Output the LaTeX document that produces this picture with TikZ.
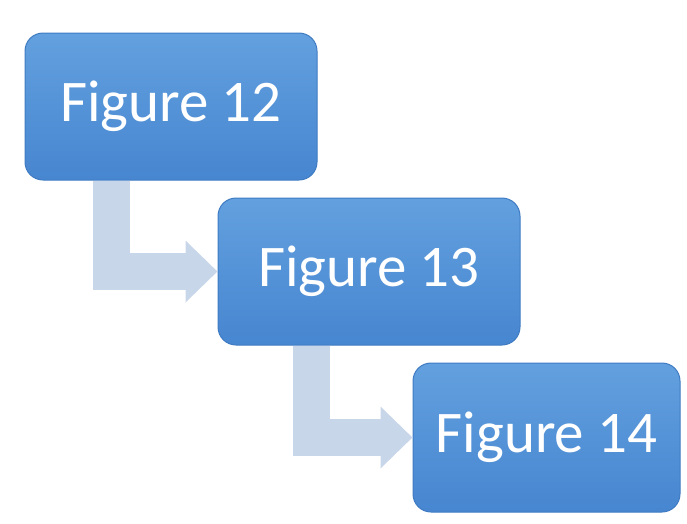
\documentclass[tikz,border=0pt]{standalone}
\usepackage{fontspec}
\setmainfont{Carlito}
\usetikzlibrary{arrows.meta}

\definecolor{boxtop}{HTML}{62A0DF}
\definecolor{boxbot}{HTML}{4786D0}
\definecolor{boxline}{HTML}{3F7BC2}
\definecolor{bendblue}{HTML}{C8D6EA}

\tikzset{
  figbox/.style={rounded corners=18pt, draw=boxline, line width=1pt,
    top color=boxtop, bottom color=boxbot, text=white,
    inner sep=0pt, font=\fontsize{59}{62}\selectfont},
  bendarrow/.style={draw=bendblue, line width=37pt, line join=miter,
    -{Triangle[length=32pt,width=60pt]}}
}

\begin{document}
\begin{tikzpicture}[x=1pt,y=-1pt]
      % page frame
      \useasboundingbox (0,0) rectangle (687,523);

      % The three boxes
      \node[figbox, minimum width=292pt, minimum height=147pt] (fig12) at (171,106.5) {Figure 12};
      \node[figbox, minimum width=302pt, minimum height=147pt] (fig13) at (369,271.5) {Figure 13};
      \node[figbox, minimum width=267pt, minimum height=149pt] (fig14) at (546.5,437.5) {Figure 14};

      % Bent arrows between them
      \draw[bendarrow] ([xshift=87pt]fig12.south west) |- (fig13.west);
      \draw[bendarrow] ([xshift=94pt]fig13.south west) |- (fig14.west);
    \end{tikzpicture}
\end{document}
